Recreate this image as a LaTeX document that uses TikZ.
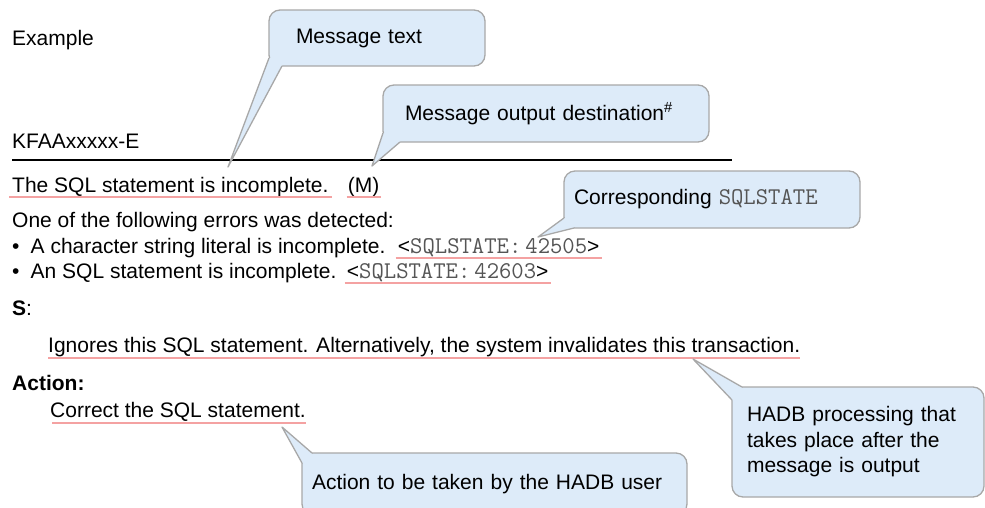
\documentclass[tikz,border=0pt]{standalone}
\usepackage{fontspec}
\setmainfont{Liberation Sans}
\usetikzlibrary{positioning}

\definecolor{bubblefill}{HTML}{DDEBF9}
\definecolor{bubbleline}{HTML}{A8A8A8}
\definecolor{ulred}{HTML}{F4A2A2}
\definecolor{codegray}{HTML}{555555}

\newcommand{\sqlst}[1]{{\ttfamily\fontsize{24}{25.5}\selectfont\color{codegray}#1}}

\tikzset{
  txt/.style={anchor=base west, inner sep=0pt, font=\fontsize{21}{25.5}\selectfont},
  bubble/.style={draw=bubbleline, fill=bubblefill, line width=1.3pt, rounded corners=11pt,
                 anchor=north west, align=left, inner ysep=0pt, outer sep=0pt,
                 font=\fontsize{21}{25.5}\selectfont},
  tailfill/.style={fill=bubblefill},
  tailline/.style={draw=bubbleline, line width=1.3pt, line join=round},
  uline/.style={draw=ulred, line width=1.8pt},
}

\begin{document}
\begin{tikzpicture}[x=1pt, y=-1pt]
  \clip (0,0) rectangle (985,507);

  \node[txt] (example) at (12,45) {Example};
  \node[txt] (msgid) at (12,148) {KFAAxxxxx-E};
  \coordinate (rulel) at (12,160);
  \coordinate (ruler) at (732,160);
  \draw[line width=1.8pt] (rulel) -- (ruler);

  \node[txt] (stmt) at (12,192) {The SQL statement is incomplete.};
  \node[txt, base right=19pt of stmt] (mtype) {(M)};
  \node[txt] (errhead) at (12,227) {One of the following errors was detected:};
  \node[txt] (err1) at (12,253) {\makebox[18.5pt][l]{\textbullet}A character string literal is incomplete.};
  \node[txt, base right=12pt of err1] (state1) {<\sqlst{SQLSTATE:\,42505}>};
  \node[txt] (err2) at (12,278) {\makebox[18.5pt][l]{\textbullet}An SQL statement is incomplete.};
  \node[txt, base right=10pt of err2] (state2) {<\sqlst{SQLSTATE:\,42603}>};
  \node[txt] (shead) at (12,315) {\textbf{S}:};
  \node[txt] (sbody) at (48,352) {Ignores this SQL statement. Alternatively, the system invalidates this transaction.};
  \node[txt] (acthead) at (12,390) {\textbf{Action:}};
  \node[txt] (actbody) at (50,417) {Correct the SQL statement.};

  \draw[uline] ([shift={(-3pt,-5pt)}]stmt.base west) -- ([shift={(3pt,-5pt)}]stmt.base east);
  \draw[uline] ([shift={(-1pt,-5pt)}]mtype.base west) -- ([shift={(1pt,-5pt)}]mtype.base east);
  \draw[uline] ([shift={(-2pt,-5pt)}]state1.base west) -- ([shift={(2pt,-5pt)}]state1.base east);
  \draw[uline] ([shift={(-2pt,-5pt)}]state2.base west) -- ([shift={(2pt,-5pt)}]state2.base east);
  \draw[uline] ([shift={(0pt,-6pt)}]sbody.base west) -- ([shift={(0pt,-6pt)}]sbody.base east);
  \draw[uline] ([shift={(2pt,-6pt)}]actbody.base west) -- ([shift={(0pt,-6pt)}]actbody.base east);

  \node[bubble, text width=162pt, inner xsep=27pt, minimum height=56pt] (msgtext) at (269,10) {Message text};
  \node[bubble, text width=282pt, inner xsep=22pt, minimum height=57pt] (dest) at (383,85)
        {Message output destination\textsuperscript{\#}};
  \node[bubble, text width=276pt, inner xsep=10pt, minimum height=57pt] (sqlcall) at (564,171)
        {Corresponding \sqlst{SQLSTATE}};
  \node[bubble, text width=222pt, inner xsep=15pt, minimum height=110pt] (hadb) at (732,387)
        {HADB processing that\\takes place after the\\message is output};
  \node[bubble, text width=365pt, inner xsep=10pt, minimum height=62pt] (user) at (302,453)
        {Action to be taken by the HADB user};

  \coordinate (msgtip) at (228,167);
  \coordinate (desttip) at (372,166);
  \coordinate (sqltip) at (538,237);
  \coordinate (hadbtip) at (693,359);
  \coordinate (usertip) at (282,427);

  \fill[tailfill] ([yshift=8pt]msgtext.south west) -- (msgtip) -- ([xshift=13pt]msgtext.south west)
        -- ([shift={(13pt,8pt)}]msgtext.south west) -- cycle;
  \draw[tailline] ([yshift=8pt]msgtext.south west) -- (msgtip) -- ([xshift=13pt]msgtext.south west);
  \fill[tailfill] ([yshift=9pt]dest.south west) -- (desttip) -- ([xshift=17pt]dest.south west)
        -- ([shift={(17pt,9pt)}]dest.south west) -- cycle;
  \draw[tailline] ([yshift=9pt]dest.south west) -- (desttip) -- ([xshift=17pt]dest.south west);
  \fill[tailfill] ([yshift=10pt]sqlcall.south west) -- (sqltip) -- ([xshift=10pt]sqlcall.south west)
        -- ([shift={(10pt,10pt)}]sqlcall.south west) -- cycle;
  \draw[tailline] ([yshift=10pt]sqlcall.south west) -- (sqltip) -- ([xshift=10pt]sqlcall.south west);
  \fill[tailfill] ([yshift=-13pt]hadb.north west) -- (hadbtip) -- ([xshift=10pt]hadb.north west)
        -- ([shift={(10pt,-13pt)}]hadb.north west) -- cycle;
  \draw[tailline] ([yshift=-13pt]hadb.north west) -- (hadbtip) -- ([xshift=10pt]hadb.north west);
  \fill[tailfill] ([yshift=-10pt]user.north west) -- (usertip) -- ([xshift=10pt]user.north west)
        -- ([shift={(10pt,-10pt)}]user.north west) -- cycle;
  \draw[tailline] ([yshift=-10pt]user.north west) -- (usertip) -- ([xshift=10pt]user.north west);
\end{tikzpicture}
\end{document}
